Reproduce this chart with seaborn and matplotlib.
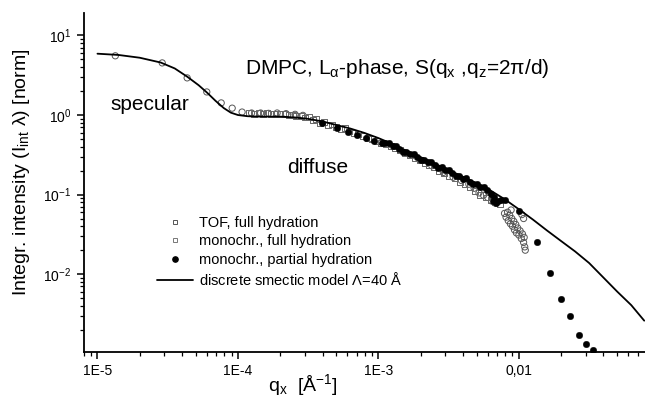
import matplotlib
matplotlib.use('Agg')
import matplotlib.pyplot as plt
from matplotlib.lines import Line2D
from matplotlib.ticker import LogLocator, NullFormatter, FixedLocator, FixedFormatter
import seaborn as sns
import pandas as pd

# discrete smectic model, Lambda = 40 A
model_qx = [1.00e-5, 1.41e-5, 2.00e-5, 2.82e-5, 3.55e-5, 4.37e-5, 5.25e-5, 6.03e-5, 6.92e-5,
            7.94e-5, 8.91e-5, 1.00e-4, 1.17e-4, 1.41e-4, 2.00e-4, 2.51e-4, 3.16e-4, 3.98e-4,
            5.01e-4, 6.31e-4, 7.94e-4, 1.00e-3, 1.26e-3, 1.58e-3, 2.00e-3, 2.51e-3, 3.16e-3,
            3.98e-3, 5.01e-3, 6.31e-3, 7.94e-3, 1.00e-2, 1.26e-2, 1.58e-2, 2.00e-2, 2.51e-2,
            3.16e-2, 3.98e-2, 5.01e-2, 6.31e-2, 7.80e-2]
model_int = [5.90, 5.69, 5.25, 4.57, 3.85, 3.02, 2.37, 1.91, 1.51,
             1.22, 1.07, 1.00, 0.966, 0.955, 0.955, 0.933, 0.895, 0.832,
             0.750, 0.676, 0.596, 0.513, 0.432, 0.355, 0.295, 0.245, 0.204,
             0.168, 0.138, 0.112, 0.0871, 0.0653, 0.0484, 0.0355, 0.0260, 0.0193,
             0.0138, 0.00912, 0.00603, 0.00407, 0.0026]

# TOF, full hydration (open circles)
tof_qx = [1.34e-5, 2.89e-5, 4.35e-5, 6.00e-5, 7.60e-5, 9.10e-5, 1.07e-4, 1.25e-4, 1.45e-4,
          1.65e-4, 1.90e-4, 2.20e-4, 2.55e-4, 2.90e-4,
          1.60e-3, 2.00e-3, 2.40e-3, 2.90e-3, 3.40e-3, 3.90e-3, 4.40e-3, 4.80e-3, 5.20e-3,
          5.60e-3, 6.00e-3, 6.40e-3, 6.80e-3,
          7.90e-3, 8.10e-3, 8.30e-3, 8.40e-3, 8.60e-3, 8.70e-3, 8.90e-3, 9.00e-3, 9.20e-3,
          9.30e-3, 9.50e-3, 9.60e-3, 9.80e-3, 1.00e-2, 1.02e-2, 1.04e-2, 1.06e-2, 1.08e-2,
          1.09e-2, 1.10e-2, 1.11e-2, 1.05e-2, 1.08e-2, 8.80e-3]
tof_int = [5.55, 4.52, 2.93, 1.95, 1.42, 1.22, 1.09, 1.06, 1.06,
           1.05, 1.06, 1.04, 1.02, 0.99,
           0.33, 0.27, 0.23, 0.19, 0.165, 0.15, 0.135, 0.12, 0.105,
           0.098, 0.092, 0.083, 0.078,
           0.058, 0.052, 0.060, 0.047, 0.055, 0.043, 0.050, 0.040, 0.046,
           0.036, 0.042, 0.033, 0.038, 0.031, 0.035, 0.028, 0.032, 0.025,
           0.029, 0.022, 0.020, 0.056, 0.050, 0.064]

# monochromatic, full hydration (open squares)
mono_full_qx = [1.20e-4, 1.30e-4, 1.40e-4, 1.50e-4, 1.60e-4, 1.72e-4, 1.85e-4, 2.00e-4, 2.15e-4,
                2.30e-4, 2.45e-4, 2.60e-4, 2.80e-4, 3.00e-4, 3.20e-4, 3.40e-4, 3.60e-4, 3.85e-4,
                4.10e-4, 4.40e-4, 4.70e-4, 5.00e-4, 5.40e-4, 5.80e-4, 6.20e-4, 6.70e-4, 7.20e-4,
                7.80e-4, 8.40e-4, 9.00e-4, 9.70e-4, 1.05e-3, 1.13e-3, 1.22e-3, 1.32e-3, 1.43e-3,
                1.55e-3, 1.68e-3, 1.82e-3, 1.97e-3, 2.13e-3, 2.30e-3, 2.50e-3, 2.70e-3, 2.95e-3,
                3.20e-3, 3.50e-3, 3.80e-3, 4.10e-3, 4.50e-3, 4.90e-3, 5.30e-3, 5.80e-3, 6.30e-3,
                6.80e-3, 7.30e-3]
mono_full_int = [1.05, 1.04, 1.05, 1.04, 1.05, 1.03, 1.04, 1.02, 1.03,
                 1.00, 1.01, 0.97, 0.98, 0.93, 0.95, 0.86, 0.88, 0.80,
                 0.82, 0.75, 0.76, 0.70, 0.66, 0.68, 0.62, 0.60, 0.58,
                 0.55, 0.52, 0.50, 0.47, 0.45, 0.43, 0.41, 0.38, 0.36,
                 0.33, 0.31, 0.29, 0.27, 0.25, 0.235, 0.22, 0.20, 0.185,
                 0.17, 0.16, 0.145, 0.135, 0.125, 0.110, 0.100, 0.092, 0.085,
                 0.080, 0.075]

# monochromatic, partial hydration (filled circles)
mono_part_qx = [3.96e-4, 5.06e-4, 6.06e-4, 7.03e-4, 8.15e-4, 9.29e-4, 1.06e-3,
                1.12e-3, 1.19e-3, 1.26e-3, 1.33e-3, 1.41e-3, 1.50e-3, 1.58e-3, 1.68e-3, 1.78e-3,
                1.88e-3, 2.00e-3, 2.11e-3, 2.24e-3, 2.37e-3, 2.51e-3, 2.66e-3, 2.82e-3, 2.99e-3,
                3.16e-3, 3.35e-3, 3.55e-3, 3.76e-3, 3.98e-3, 4.22e-3, 4.47e-3, 4.73e-3, 5.01e-3,
                5.31e-3, 5.62e-3, 5.96e-3, 6.31e-3, 6.50e-3, 6.68e-3, 6.90e-3, 7.08e-3, 7.50e-3,
                7.94e-3,
                1.00e-2, 1.34e-2, 1.66e-2, 1.99e-2, 2.30e-2, 2.66e-2, 2.99e-2, 3.35e-2]
mono_part_int = [0.79, 0.69, 0.62, 0.565, 0.515, 0.47, 0.44,
                 0.439, 0.440, 0.407, 0.406, 0.374, 0.344, 0.347, 0.320, 0.324,
                 0.295, 0.275, 0.275, 0.254, 0.257, 0.234, 0.216, 0.219, 0.202,
                 0.204, 0.186, 0.173, 0.172, 0.158, 0.160, 0.145, 0.134, 0.135,
                 0.124, 0.124, 0.113, 0.102, 0.082, 0.092, 0.078, 0.082, 0.0866,
                 0.0851,
                 0.0616, 0.025, 0.0102, 0.0049, 0.0030, 0.0017, 0.00133, 0.00112]

sns.set_theme(style='ticks')
plt.rcParams['font.family'] = ['Liberation Sans', 'DejaVu Sans']
plt.rcParams['mathtext.fontset'] = 'custom'
plt.rcParams['mathtext.rm'] = 'Liberation Sans'
plt.rcParams['mathtext.it'] = 'Liberation Sans'
plt.rcParams['mathtext.sf'] = 'Liberation Sans'
plt.rcParams['text.color'] = 'black'
plt.rcParams['axes.labelcolor'] = 'black'

fig = plt.figure(figsize=(6.45, 3.98), dpi=100)
ax = fig.add_axes([0.130, 0.1156, 0.870, 0.851])

model_df = pd.DataFrame({'qx': model_qx, 'I': model_int})
tof_df = pd.DataFrame({'qx': tof_qx, 'I': tof_int})
full_df = pd.DataFrame({'qx': mono_full_qx, 'I': mono_full_int})
part_df = pd.DataFrame({'qx': mono_part_qx, 'I': mono_part_int})

sns.scatterplot(data=tof_df, x='qx', y='I', ax=ax, marker='o', s=20,
                facecolor='none', edgecolor='#555555', linewidth=0.7, zorder=2)
sns.scatterplot(data=full_df, x='qx', y='I', ax=ax, marker='s', s=18,
                facecolor='none', edgecolor='#666666', linewidth=0.7, zorder=2)
sns.scatterplot(data=part_df, x='qx', y='I', ax=ax, marker='o', s=22,
                color='black', edgecolor='black', linewidth=0.3, zorder=3)
sns.lineplot(data=model_df, x='qx', y='I', ax=ax, color='black', linewidth=1.3,
             sort=False, estimator=None, zorder=4)

ax.set_xscale('log')
ax.set_yscale('log')
ax.set_xlim(8.0e-6, 0.079)
ax.set_ylim(1.05e-3, 19)

ax.xaxis.set_major_locator(FixedLocator([1e-5, 1e-4, 1e-3, 1e-2]))
ax.xaxis.set_major_formatter(FixedFormatter(['1E-5', '1E-4', '1E-3', '0,01']))
ax.xaxis.set_minor_locator(LogLocator(base=10, subs=range(2, 10), numticks=20))
ax.xaxis.set_minor_formatter(NullFormatter())
ax.yaxis.set_major_locator(LogLocator(base=10, numticks=10))
ax.yaxis.set_minor_locator(LogLocator(base=10, subs=range(2, 10), numticks=20))
ax.yaxis.set_minor_formatter(NullFormatter())

for side in ['top', 'right']:
    ax.spines[side].set_visible(False)
for side in ['left', 'bottom']:
    ax.spines[side].set_linewidth(1.3)
    ax.spines[side].set_color('black')
ax.tick_params(which='major', direction='out', length=5, width=1.1, labelsize=10,
               colors='black', pad=4)
ax.tick_params(which='minor', direction='out', length=3, width=0.9, colors='black')
ax.set_xlabel('')
ax.set_ylabel('')

fig.text(22 / 645, 1 - 172 / 398, r'Integr. intensity (I$_{int}$ $\lambda$) [norm]',
         rotation=90, ha='center', va='center', fontsize=14)
fig.text(303 / 645, 1 - 391 / 398, r'q$_x$  [$\mathrm{\AA}^{-1}$]',
         ha='center', va='baseline', fontsize=14)

fig.text(245 / 645, 1 - 74 / 398, r'DMPC, L$_{\alpha}$-phase, S(q$_x$ ,q$_z$=2$\pi$/d)',
         ha='left', va='baseline', fontsize=15)
fig.text(110 / 645, 1 - 110 / 398, 'specular', ha='left', va='baseline', fontsize=15)
fig.text(287 / 645, 1 - 173 / 398, 'diffuse', ha='left', va='baseline', fontsize=15)

handles = [
    Line2D([], [], linestyle='none', marker='s', markersize=3.5, markerfacecolor='none',
           markeredgecolor='#555555', markeredgewidth=0.7),
    Line2D([], [], linestyle='none', marker='s', markersize=3.5, markerfacecolor='none',
           markeredgecolor='#777777', markeredgewidth=0.7),
    Line2D([], [], linestyle='none', marker='o', markersize=3.8, color='black'),
    Line2D([], [], color='black', linewidth=1.3),
]
labels = ['TOF, full hydration', 'monochr., full hydration',
          'monochr., partial hydration', r'discrete smectic model $\Lambda$=40 $\mathrm{\AA}$']
ax.legend(handles, labels, loc='upper left', bbox_to_anchor=(157 / 645, 1 - 216 / 398),
          bbox_transform=fig.transFigure, frameon=False, fontsize=10.5,
          borderaxespad=0, borderpad=0, handlelength=2.5, handletextpad=0.4,
          labelspacing=0.3)

plt.savefig('out.png', dpi=100)
plt.close()
